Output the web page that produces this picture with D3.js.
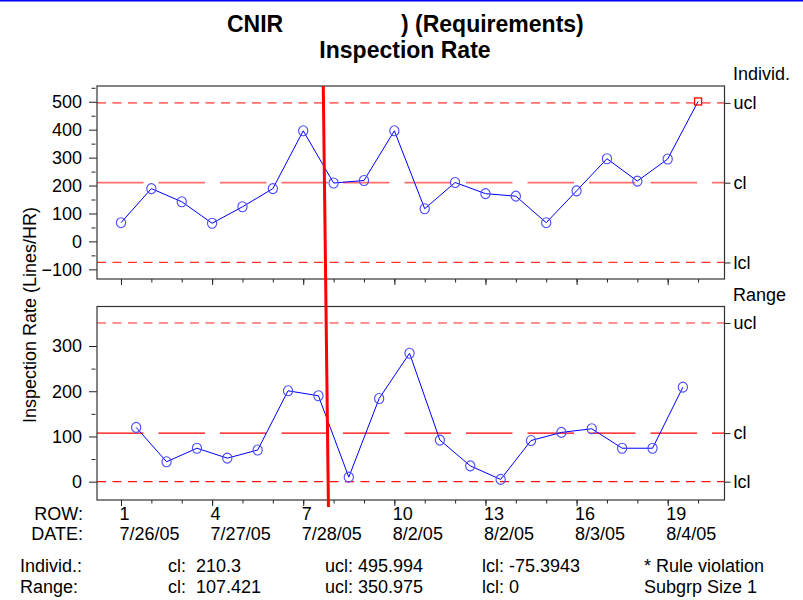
<!DOCTYPE html>
<html>
<head>
<meta charset="utf-8">
<script src="https://cdn.jsdelivr.net/npm/d3@7"></script>
<style>
  body { margin: 0; background: #fff; }
  svg { display: block; font-family: "Liberation Sans", Arial, Helvetica, sans-serif; }
  text { white-space: pre; fill: #000; }
</style>
</head>
<body>
<div id="chart"></div>
<script>
// Data
const rows = [1, 2, 3, 4, 5, 6, 7, 8, 9, 10, 11, 12, 13, 14, 15, 16, 17, 18, 19, 20]
const individ = [67, 189, 142, 65, 124, 189, 396, 209, 218, 396, 117, 211, 171, 162, 67, 181, 296, 216, 295, 501]
// moving range, one value per row from row 2 on
const ranges = [120, 44, 74, 52, 70, 201, 190, 10, 184, 284, 92, 35, 5, 91, 109, 117, 74, 74, 209]
const violationRows = [20]

const tickRows = [1, 4, 7, 10, 13, 16, 19]
const tickDates = ['7/26/05', '7/27/05', '7/28/05', '8/2/05', '8/2/05', '8/3/05', '8/4/05']

const limitNames = ['ucl', 'cl', 'lcl']
const individLimits = [495.994, 210.3, -75.3943]
const rangeLimits = [350.975, 107.421, 0]

const individTicks = [-100, 0, 100, 200, 300, 400, 500]
const individMinor = [-50, 50, 150, 250, 350, 450, 550]
const rangeTicks = [0, 100, 200, 300]
const rangeMinor = [50, 150, 250]

// phase change line drawn across both panels (row position at top / bottom)
const phaseRows = [7.66, 7.83]

// Layout
const width = 803
const height = 600
const frame = { left: 97, right: 724.5 }
const topPanel = { top: 86, bottom: 279 }
const botPanel = { top: 306.5, bottom: 500 }

const svg = d3.select('#chart')
    .append('svg')
    .attr('width', width)
    .attr('height', height)

svg.append('line')
    .attr('x1', 0).attr('x2', width)
    .attr('y1', 0.75).attr('y2', 0.75)
    .attr('stroke', '#0000ff')
    .attr('stroke-width', 1.5)

// Scales
const x = d3.scaleLinear()
    .domain([0.21, 20.87])
    .range([frame.left, frame.right])

const yTop = d3.scaleLinear()
    .domain([-134.6, 556.4])
    .range([topPanel.bottom, topPanel.top])

const yBot = d3.scaleLinear()
    .domain([-40.5, 387.4])
    .range([botPanel.bottom, botPanel.top])

// Title
const title = svg.append('g')
    .style('font-weight', 'bold')
    .style('font-size', '23px')
title.append('text').attr('x', 227).attr('y', 32).text('CNIR')
title.append('text').attr('x', 401).attr('y', 32).text(') (Requirements)')
title.append('text').attr('x', 405).attr('y', 58).attr('text-anchor', 'middle').text('Inspection Rate')

// Y label
svg.append('text')
    .attr('transform', 'translate(36, 315) rotate(-90)')
    .attr('text-anchor', 'middle')
    .style('font-size', '18px')
    .text('Inspection Rate (Lines/HR)')

const styleAxis = g => {
    g.select('.domain').remove()
    g.selectAll('line').attr('stroke', '#222')
    g.selectAll('text')
        .style('font-size', '18px')
        .style('font-family', '"Liberation Sans", Arial, sans-serif')
        .attr('fill', '#000')
}

const limitStyles = [
    { top: ['#ff6e6e', 1.6, '9,6.5'], bot: ['#ff6e6e', 1.6, '9,6.5'] },
    { top: ['#ff6e6e', 1.8, '46.5,15'], bot: ['#ff0000', 1.2, '46.5,15'] },
    { top: ['#ff3030', 1.3, '9,6.5'], bot: ['#ff1010', 1.3, '9,6.5'] }
]

function drawPanel(p, y, ticks, minor, limits, which, points, rightTitle) {
    const g = svg.append('g')

    // left axis
    g.append('g')
        .attr('transform', `translate(${frame.left}, 0)`)
        .call(d3.axisLeft(y).tickValues(ticks).tickSize(8).tickPadding(7))
        .call(styleAxis)
    g.append('g')
        .attr('transform', `translate(${frame.left - 1.5}, 0)`)
        .call(d3.axisLeft(y).tickValues(minor).tickSize(4).tickFormat(''))
        .call(styleAxis)

    // bottom ticks, one per row, longer at labelled rows
    g.append('g')
        .attr('transform', `translate(0, ${p.bottom})`)
        .call(d3.axisBottom(x).tickValues(rows).tickSize(3.5).tickFormat(''))
        .call(styleAxis)
    g.append('g')
        .attr('transform', `translate(0, ${p.bottom})`)
        .call(d3.axisBottom(x).tickValues(tickRows).tickSize(6).tickFormat(''))
        .call(styleAxis)

    // right axis with limit names
    g.append('g')
        .attr('transform', `translate(${frame.right}, 0)`)
        .call(d3.axisRight(y).tickValues(limits).tickSize(6).tickPadding(3)
            .tickFormat((d, i) => limitNames[i]))
        .call(styleAxis)

    g.append('text')
        .attr('x', 733)
        .attr('y', p.top - 6)
        .style('font-size', '18px')
        .text(rightTitle)

    // control limits
    g.selectAll('.limit')
        .data(limits)
        .enter()
        .append('line')
        .attr('class', 'limit')
        .attr('x1', frame.left)
        .attr('x2', frame.right)
        .attr('y1', d => y(d))
        .attr('y2', d => y(d))
        .attr('stroke', (d, i) => limitStyles[i][which][0])
        .attr('stroke-width', (d, i) => limitStyles[i][which][1])
        .attr('stroke-dasharray', (d, i) => limitStyles[i][which][2])

    // data line
    const line = d3.line()
        .x(d => x(d.row))
        .y(d => y(d.value))

    g.append('path')
        .datum(points)
        .attr('d', line)
        .attr('fill', 'none')
        .attr('stroke', '#0000ff')
        .attr('stroke-width', 1)

    g.selectAll('.pt')
        .data(points.filter(d => !d.violation))
        .enter()
        .append('ellipse')
        .attr('class', 'pt')
        .attr('cx', d => x(d.row))
        .attr('cy', d => y(d.value))
        .attr('rx', 4.6)
        .attr('ry', 5)
        .attr('fill', 'none')
        .attr('stroke', '#4a4aff')
        .attr('stroke-width', 1.1)

    g.selectAll('.viol')
        .data(points.filter(d => d.violation))
        .enter()
        .append('rect')
        .attr('class', 'viol')
        .attr('x', d => x(d.row) - 3.5)
        .attr('y', d => y(d.value) - 3.5)
        .attr('width', 7)
        .attr('height', 7)
        .attr('fill', 'none')
        .attr('stroke', '#ff0000')
        .attr('stroke-width', 1.3)

    // frame
    g.append('rect')
        .attr('x', frame.left)
        .attr('y', p.top)
        .attr('width', frame.right - frame.left)
        .attr('height', p.bottom - p.top)
        .attr('fill', 'none')
        .attr('stroke', '#333')
        .attr('stroke-width', 1.2)
}

const individPoints = individ.map((v, i) => ({
    row: rows[i], value: v, violation: violationRows.includes(rows[i])
}))
const rangePoints = ranges.map((v, i) => ({ row: rows[i + 1] - 0.5, value: v, violation: false }))

drawPanel(topPanel, yTop, individTicks, individMinor, individLimits, 'top', individPoints, 'Individ.')
drawPanel(botPanel, yBot, rangeTicks, rangeMinor, rangeLimits, 'bot', rangePoints, 'Range')

// phase change marker
svg.append('line')
    .attr('x1', x(phaseRows[0]))
    .attr('x2', x(phaseRows[1]))
    .attr('y1', topPanel.top)
    .attr('y2', botPanel.bottom + 7)
    .attr('stroke', '#ff0000')
    .attr('stroke-width', 3)

// two-line text block (row/date labels and summary columns)
const stacked = (g, xPos, lines, ys, anchor) => {
    const t = g.append('text').attr('text-anchor', anchor || 'start')
    lines.forEach((s, i) => {
        t.append('tspan').attr('x', xPos).attr('y', ys[i]).text(s)
    })
}

// Row / date labels
const labels = svg.append('g').style('font-size', '18px')
const axisYs = [519.5, 539.8]
stacked(labels, 83, ['ROW:', 'DATE:'], axisYs, 'end')
tickRows.forEach((r, i) => {
    stacked(labels, x(r) - 1.5, [String(r), tickDates[i]], axisYs)
})

// Summary block
const stats = svg.append('g').style('font-size', '18px')
const statYs = [572.4, 592.7]
stacked(stats, 20, ['Individ.:', 'Range:'], statYs)
stacked(stats, 168, [`cl:  ${individLimits[1]}`, `cl:  ${rangeLimits[1]}`], statYs)
stacked(stats, 325, [`ucl: ${individLimits[0]}`, `ucl: ${rangeLimits[0]}`], statYs)
stacked(stats, 482, [`lcl: ${individLimits[2]}`, `lcl: ${rangeLimits[2]}`], statYs)
stacked(stats, 644, ['* Rule violation', 'Subgrp Size 1'], statYs)
</script>
</body>
</html>
